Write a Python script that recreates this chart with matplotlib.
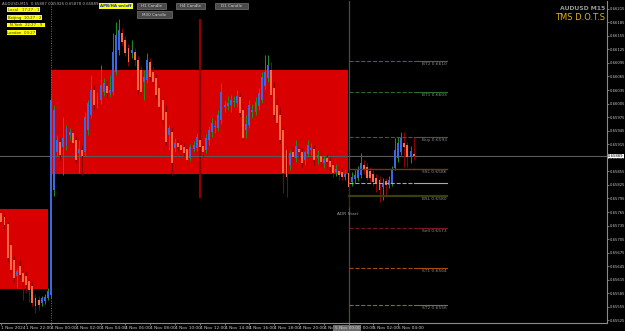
import matplotlib
matplotlib.use('Agg')
import matplotlib.pyplot as plt
from matplotlib.patches import Rectangle
from matplotlib.transforms import blended_transform_factory

# AUDUSD M15, bars from 1 Nov 20:00 to 5 Nov 05:15
opens = [0.65762, 0.65754, 0.65738, 0.65692, 0.65658, 0.65623, 0.65645, 0.65630, 0.65623, 0.65612, 0.65601, 0.65574, 0.65570, 0.65563, 0.65568, 0.65574,
         0.65581, 0.65813, 0.65897, 0.65920, 0.65909, 0.65913, 0.65935, 0.65940, 0.65924, 0.65895, 0.65902, 0.65897, 0.65946, 0.65979, 0.66035, 0.66004,
         0.66013, 0.66030, 0.66044, 0.66028, 0.66030, 0.66075, 0.66123, 0.66161, 0.66145, 0.66128, 0.66117, 0.66119, 0.66101, 0.66079, 0.66052, 0.66057,
         0.66097, 0.66075, 0.66061, 0.66039, 0.66013, 0.65986, 0.65935, 0.65942, 0.65906, 0.65917, 0.65913, 0.65909, 0.65904, 0.65884, 0.65904, 0.65906,
         0.65924, 0.65911, 0.65902, 0.65924, 0.65942, 0.65953, 0.65951, 0.65968, 0.65997, 0.65999, 0.66002, 0.66008, 0.66006, 0.66019, 0.65990, 0.65946,
         0.65957, 0.65986, 0.65986, 0.65999, 0.66013, 0.66044, 0.66061, 0.66079, 0.66039, 0.66002, 0.65979, 0.65946, 0.65902, 0.65869, 0.65897, 0.65884,
         0.65904, 0.65897, 0.65880, 0.65893, 0.65902, 0.65904, 0.65884, 0.65889, 0.65873, 0.65884, 0.65878, 0.65869, 0.65853, 0.65855, 0.65853, 0.65842,
         0.65851, 0.65831, 0.65838, 0.65840, 0.65847, 0.65869, 0.65864, 0.65855, 0.65849, 0.65840, 0.65836, 0.65820, 0.65833, 0.65824, 0.65829, 0.65862,
         0.65884, 0.65897, 0.65917, 0.65913, 0.65886, 0.65893]
highs = [0.65767, 0.65758, 0.65743, 0.65698, 0.65667, 0.65641, 0.65658, 0.65647, 0.65632, 0.65619, 0.65610, 0.65583, 0.65579, 0.65579, 0.65583, 0.65596,
         0.66024, 0.66002, 0.65935, 0.65928, 0.65975, 0.65957, 0.65951, 0.65946, 0.65933, 0.65924, 0.65913, 0.65986, 0.66013, 0.66068, 0.66046, 0.66030,
         0.66090, 0.66061, 0.66057, 0.66068, 0.66161, 0.66185, 0.66192, 0.66172, 0.66154, 0.66137, 0.66145, 0.66128, 0.66110, 0.66088, 0.66079, 0.66117,
         0.66106, 0.66086, 0.66070, 0.66048, 0.66021, 0.66002, 0.65957, 0.65951, 0.65928, 0.65924, 0.65922, 0.65917, 0.65913, 0.65915, 0.65922, 0.65940,
         0.65933, 0.65920, 0.65937, 0.65955, 0.65973, 0.65968, 0.65990, 0.66050, 0.66013, 0.66021, 0.66024, 0.66021, 0.66035, 0.66028, 0.66004, 0.65979,
         0.66013, 0.66004, 0.66019, 0.66039, 0.66075, 0.66112, 0.66112, 0.66097, 0.66052, 0.66017, 0.65995, 0.65955, 0.65911, 0.65902, 0.65911, 0.65924,
         0.65911, 0.65906, 0.65902, 0.65924, 0.65917, 0.65913, 0.65902, 0.65902, 0.65891, 0.65893, 0.65886, 0.65878, 0.65871, 0.65864, 0.65862, 0.65858,
         0.65858, 0.65853, 0.65858, 0.65867, 0.65895, 0.65880, 0.65873, 0.65864, 0.65858, 0.65849, 0.65844, 0.65840, 0.65840, 0.65844, 0.65867, 0.65928,
         0.65931, 0.65942, 0.65942, 0.65920, 0.65911, 0.65931]
lows = [0.65738, 0.65729, 0.65654, 0.65630, 0.65610, 0.65596, 0.65619, 0.65570, 0.65587, 0.65565, 0.65557, 0.65541, 0.65548, 0.65557, 0.65561, 0.65570,
        0.65574, 0.65800, 0.65889, 0.65880, 0.65847, 0.65902, 0.65924, 0.65911, 0.65873, 0.65851, 0.65847, 0.65889, 0.65935, 0.65973, 0.65990, 0.65995,
        0.66004, 0.66021, 0.66017, 0.66019, 0.66024, 0.66068, 0.66112, 0.66134, 0.66110, 0.66088, 0.66106, 0.66088, 0.66026, 0.66019, 0.66013, 0.66050,
        0.66057, 0.66044, 0.66017, 0.65990, 0.65959, 0.65913, 0.65902, 0.65847, 0.65897, 0.65900, 0.65893, 0.65889, 0.65871, 0.65878, 0.65897, 0.65900,
        0.65902, 0.65889, 0.65895, 0.65913, 0.65931, 0.65940, 0.65944, 0.65959, 0.65986, 0.65990, 0.65986, 0.65997, 0.65997, 0.65977, 0.65924, 0.65928,
        0.65951, 0.65973, 0.65979, 0.65990, 0.66006, 0.66035, 0.66052, 0.66017, 0.65973, 0.65953, 0.65917, 0.65807, 0.65798, 0.65858, 0.65875, 0.65875,
        0.65880, 0.65864, 0.65869, 0.65886, 0.65891, 0.65869, 0.65871, 0.65867, 0.65862, 0.65862, 0.65855, 0.65842, 0.65844, 0.65836, 0.65836, 0.65836,
        0.65776, 0.65822, 0.65829, 0.65833, 0.65840, 0.65849, 0.65836, 0.65831, 0.65822, 0.65809, 0.65787, 0.65791, 0.65798, 0.65818, 0.65822, 0.65858,
        0.65875, 0.65891, 0.65864, 0.65864, 0.65873, 0.65880]
closes = [0.65743, 0.65736, 0.65663, 0.65636, 0.65619, 0.65634, 0.65625, 0.65610, 0.65603, 0.65592, 0.65563, 0.65557, 0.65559, 0.65574, 0.65576, 0.65590,
          0.66013, 0.65990, 0.65924, 0.65891, 0.65928, 0.65951, 0.65942, 0.65917, 0.65880, 0.65904, 0.65889, 0.65975, 0.66006, 0.66035, 0.66002, 0.66021,
          0.66046, 0.66050, 0.66028, 0.66035, 0.66119, 0.66157, 0.66168, 0.66141, 0.66117, 0.66097, 0.66123, 0.66101, 0.66035, 0.66030, 0.66064, 0.66101,
          0.66064, 0.66052, 0.66024, 0.65997, 0.65968, 0.65920, 0.65951, 0.65873, 0.65917, 0.65909, 0.65902, 0.65895, 0.65880, 0.65909, 0.65913, 0.65931,
          0.65909, 0.65897, 0.65928, 0.65946, 0.65962, 0.65955, 0.65979, 0.66030, 0.66002, 0.66006, 0.66013, 0.66010, 0.66021, 0.65984, 0.65928, 0.65959,
          0.66002, 0.65990, 0.66008, 0.66028, 0.66064, 0.66075, 0.66090, 0.66024, 0.65979, 0.65962, 0.65924, 0.65851, 0.65842, 0.65895, 0.65886, 0.65911,
          0.65897, 0.65873, 0.65897, 0.65913, 0.65906, 0.65880, 0.65891, 0.65875, 0.65882, 0.65875, 0.65864, 0.65851, 0.65860, 0.65847, 0.65842, 0.65849,
          0.65820, 0.65842, 0.65847, 0.65858, 0.65873, 0.65858, 0.65840, 0.65840, 0.65831, 0.65829, 0.65813, 0.65829, 0.65824, 0.65836, 0.65858, 0.65902,
          0.65917, 0.65928, 0.65909, 0.65886, 0.65900, 0.65889]

# time axis labels (every 8 bars = 2 hours)
tick_bars = [0, 8, 16, 24, 32, 40, 48, 56, 64, 72, 80, 88, 96, 104, 112, 120, 128]
tick_labels = ['1 Nov 2024', '1 Nov 22:00', '4 Nov 00:00', '4 Nov 02:00', '4 Nov 04:00', '4 Nov 06:00',
               '4 Nov 08:00', '4 Nov 10:00', '4 Nov 12:00', '4 Nov 14:00', '4 Nov 16:00', '4 Nov 18:00',
               '4 Nov 20:00', '4 Nov 22:00', '5 Nov 00:00', '5 Nov 02:00', '5 Nov 04:00']

# session boxes: (start bar, end bar, top, bottom)
zones = [(-0.5, 15.0, 0.65771, 0.65594),
         (15.9, 111.9, 0.66079, 0.65849)]

# ADR levels
level_names = ['BT2', 'BT1', 'Buy', 'SSL', '', 'BSL', 'Sell', 'ST1', 'ST2']
level_prices = [0.6610, 0.6603, 0.6593, 0.6586, 0.6583, 0.6580, 0.6573, 0.6564, 0.6556]
level_colors = ['#3c5c8c', '#2c6a2c', '#2c6a2c', '#7a3414', '#a8a8a8', '#3c3c12', '#7c1428', '#a84814', '#8c6c14']
level_styles = ['--', '--', '--', '-', '--', '-', '--', '--', '--']
level_widths = [0.8, 0.8, 0.8, 1.0, 0.8, 1.6, 0.8, 0.8, 0.8]
adr_start = 112
level_end = 143.7

W, H = 625, 331
fig = plt.figure(figsize=(W / 100, H / 100), dpi=100, facecolor='black')
ax = fig.add_axes([0, 8.3 / H, 607 / W, 321.7 / H])
ax.set_facecolor('black')

def fpos(x, y):
    return x / W, 1 - y / H

n = len(closes)
bars = list(range(n))

for x0, x1, top, bot in zones:
    ax.add_patch(Rectangle((x0, bot), x1 - x0, top - bot, facecolor='#d80000', edgecolor='none', zorder=1))

# day separator and markers
ax.axvline(16, color='#707070', lw=0.7, ls=(0, (1, 1.5)), zorder=2)
ax.axvline(adr_start, color='#4a4a4a', lw=0.9, zorder=2)
ax.vlines(64, 0.65796, 0.66192, color='#8b0000', lw=1.6, zorder=2)

# candles
for i in bars:
    o, h, l, c = opens[i], highs[i], lows[i], closes[i]
    bull = c >= o
    ax.vlines(i, l, h, color='#1e8c1e' if bull else '#8b0000', lw=0.75, zorder=3)
    body = max(abs(c - o), 0.000015)
    ax.bar(i, body, bottom=min(o, c), width=0.62, color='#3a68e0' if bull else '#ff6a45',
           edgecolor='none', zorder=4)

# current price line
ax.axhline(closes[-1], color='#5a5a5a', lw=0.8, zorder=2)

# levels
for name, p, col, st, lw in zip(level_names, level_prices, level_colors, level_styles, level_widths):
    ax.plot([adr_start, n - 1], [p, p], color=col, ls=st, lw=lw, zorder=5)
    ax.plot([n - 1, level_end], [p, p], color=col, ls='-', lw=lw, zorder=5)
    if name:
        ax.text(level_end, p - 0.00002, '%s %.4f' % (name, p), color='#8a8a8a', fontsize=3.2,
                ha='right', va='top', zorder=6)
ax.text(adr_start + 3, 0.65760, 'ADR Start', color='#9a9a9a', fontsize=3.2, ha='right', va='center', zorder=6)

ax.set_xlim(-0.45, 195.4)
ax.set_ylim(0.65520, 0.66232)

for s in ['top', 'left']:
    ax.spines[s].set_visible(False)
for s in ['right', 'bottom']:
    ax.spines[s].set_color('#8a8a8a')
    ax.spines[s].set_linewidth(0.8)

yt = [0.65525 + k * 0.0003 for k in range(24)]
ax.yaxis.tick_right()
ax.set_yticks(yt)
ax.set_yticklabels(['%.5f' % v for v in yt])
ax.tick_params(axis='y', colors='#8a8a8a', labelcolor='#c8c8c8', labelsize=2.7, length=1.2, width=0.6, pad=0.5)
ax.set_xticks(tick_bars)
ax.set_xticklabels(tick_labels, ha='left')
ax.tick_params(axis='x', colors='#8a8a8a', labelcolor='#c8c8c8', labelsize=3.1, length=1.5, width=0.6, pad=1)

# price / time highlight labels
tr_y = blended_transform_factory(ax.transAxes, ax.transData)
ax.text(1.002, closes[-1], '%.5f' % closes[-1], transform=tr_y, fontsize=2.7, color='black',
        va='center', ha='left', bbox=dict(boxstyle='square,pad=0.12', fc='white', ec='none'),
        clip_on=False, zorder=10)
tr_x = blended_transform_factory(ax.transData, ax.transAxes)
ax.text(adr_start - 4.5, -0.009, '5 Nov 00:00', transform=tr_x, fontsize=3.1, color='#d0d0d0',
        va='top', ha='left', bbox=dict(boxstyle='square,pad=0.25', fc='#6a6a6a', ec='none'),
        clip_on=False, zorder=10)

# header texts
fig.text(*fpos(2, 4), 'AUDUSD,M15  0.65887 0.65926 0.65878 0.65889', color='#b0b0b0', fontsize=2.8, va='center')
fig.text(*fpos(605, 8), 'AUDUSD M15', color='#9a9a9a', fontsize=4.4, weight='bold', ha='right', va='center')
fig.text(*fpos(605, 17), 'TMS D.O.T.S', color='#e0b400', fontsize=6, ha='right', va='center')

def box(x0, y0, x1, y1, face, txt, col, weight='normal', size=3.0):
    fx0, fy1 = fpos(x0, y0)
    fx1, fy0 = fpos(x1, y1)
    fig.add_artist(Rectangle((fx0, fy0), fx1 - fx0, fy1 - fy0, transform=fig.transFigure,
                             facecolor=face, edgecolor='#8a8a8a' if face != '#ffff00' else 'none', lw=0.4))
    fig.text((fx0 + fx1) / 2, (fy0 + fy1) / 2, txt, color=col, fontsize=size, weight=weight,
             ha='center', va='center')

box(98.7, 2.7, 132.7, 9.3, '#ffff00', 'APB/HA on/off', '#1030c0', 'bold', 2.9)
box(137.3, 2.7, 166, 9.3, '#4a4a4a', 'H1 Candle', '#d0d0d0')
box(176, 2.7, 205, 9.3, '#4a4a4a', 'H4 Candle', '#d0d0d0')
box(215, 2.7, 248, 9.3, '#4a4a4a', 'D1 Candle', '#d0d0d0')
box(137.3, 11.3, 171.7, 17.7, '#4a4a4a', 'M30 Candle', '#d0d0d0')

box(6.7, 7.3, 40, 12.3, '#ffff00', 'Local   17:27 : 1', '#303030', size=2.8)
box(6.7, 15, 41.7, 20, '#ffff00', 'Beijing  10:27 : 2', '#303030', size=2.8)
box(6.7, 22.7, 45, 27.3, '#ffff00', 'N.York  22:27 : 9', '#303030', size=2.8)
box(6.7, 30, 36, 35, '#ffff00', 'London  03:27', '#303030', size=2.8)

fig.savefig('out.png', dpi=100, facecolor='black')
